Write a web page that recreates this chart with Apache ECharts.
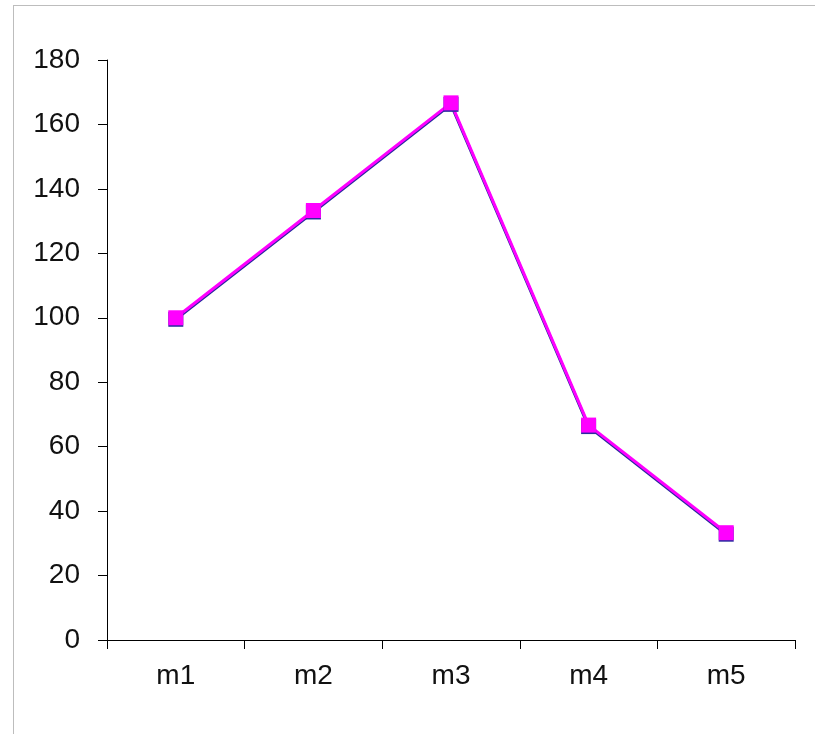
<!DOCTYPE html>
<html><head><meta charset="utf-8">
<script src="https://cdn.jsdelivr.net/npm/echarts@6/dist/echarts.min.js"></script>
<style>
html,body{margin:0;padding:0;background:#fff;}
#frame{position:absolute;left:13px;top:5px;width:802px;height:729px;border-top:1px solid #bdbdbd;border-left:1px solid #bdbdbd;}
#c{position:absolute;left:0;top:0;width:815px;height:734px;}
</style></head><body>
<div id="frame"></div>
<div id="c"></div>
<script>
const categories = ['m1','m2','m3','m4','m5'];
const values = [100, 133.3, 166.7, 66.7, 33.3];
const yTicks = {min:0, max:180, interval:20};

const chart = echarts.init(document.getElementById('c'), null, {renderer:'canvas'});
chart.setOption({
  animation:false,
  backgroundColor:'transparent',
  grid:{left:107, right:20, top:60, bottom:94, containLabel:false},
  xAxis:{
    type:'category', data:categories, boundaryGap:true,
    axisLine:{lineStyle:{color:'#000', width:1}},
    axisTick:{show:true, inside:false, length:9, lineStyle:{color:'#000'}},
    axisLabel:{color:'#111', fontFamily:'Liberation Sans, Arial, sans-serif', fontSize:28, margin:22},
    splitLine:{show:false}
  },
  yAxis:{
    type:'value', min:yTicks.min, max:yTicks.max, interval:yTicks.interval,
    axisLine:{show:true, lineStyle:{color:'#000', width:1}},
    axisTick:{show:true, inside:false, length:9, lineStyle:{color:'#000'}},
    axisLabel:{color:'#111', fontFamily:'Liberation Sans, Arial, sans-serif', fontSize:28, margin:27},
    splitLine:{show:false}
  },
  series:[{
    type:'line', data:values,
    symbol:'rect', symbolSize:15,
    lineStyle:{color:'#ff00ff', width:3, shadowColor:'#2a2aa0', shadowBlur:0, shadowOffsetY:1.5},
    itemStyle:{color:'#ff00ff', shadowColor:'#2a2aa0', shadowBlur:0, shadowOffsetY:1.5}
  }]
});
</script>
</body></html>
